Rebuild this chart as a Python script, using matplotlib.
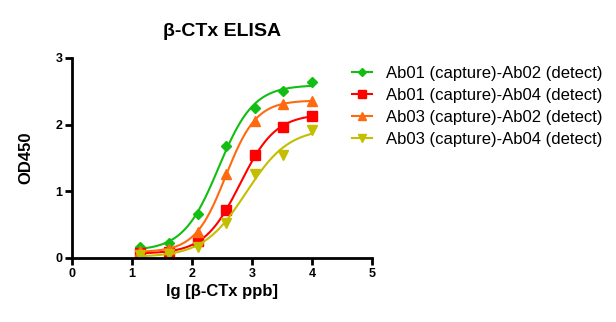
import numpy as np
import matplotlib
matplotlib.use("Agg")
import matplotlib.pyplot as plt

plt.rcParams["font.family"] = ["Liberation Sans", "DejaVu Sans"]

# lg concentration (3-fold dilutions)
x_vals = [1.137, 1.614, 2.092, 2.569, 3.046, 3.523, 4.0]

labels = ["Ab01 (capture)-Ab02 (detect)", "Ab01 (capture)-Ab04 (detect)",
          "Ab03 (capture)-Ab02 (detect)", "Ab03 (capture)-Ab04 (detect)"]
od_ab01_ab02 = [0.16, 0.23, 0.66, 1.68, 2.25, 2.50, 2.64]
od_ab01_ab04 = [0.07, 0.09, 0.25, 0.72, 1.54, 1.97, 2.13]
od_ab03_ab02 = [0.10, 0.14, 0.39, 1.26, 2.06, 2.31, 2.36]
od_ab03_ab04 = [0.05, 0.06, 0.17, 0.53, 1.26, 1.55, 1.92]
series = [od_ab01_ab02, od_ab01_ab04, od_ab03_ab02, od_ab03_ab04]
colors = ["#12BE12", "#FF0000", "#FF6A10", "#C4BE00"]
markers = ["D", "s", "^", "v"]
msizes = [5, 7, 7, 7]


def fit_4pl(x, y):
    # grid search over logEC50 / hill, bottom & top by linear least squares
    x = np.asarray(x)
    y = np.asarray(y)
    best = None
    for ec in np.linspace(1.5, 4.0, 126):
        for h in np.linspace(0.5, 3.0, 126):
            s = 1.0 / (1.0 + 10 ** ((ec - x) * h))
            A = np.column_stack([1 - s, s])
            coef, *_ = np.linalg.lstsq(A, y, rcond=None)
            err = np.sum((A @ coef - y) ** 2)
            if best is None or err < best[0]:
                best = (err, coef[0], coef[1], ec, h)
    return best[1:]


fig = plt.figure(figsize=(6.16, 3.22), dpi=100)
ax = fig.add_axes([0.117, 0.199, 0.487, 0.621])

xs = np.linspace(min(x_vals), max(x_vals), 300)
for y, c, m, ms, lab in zip(series, colors, markers, msizes, labels):
    bot, top, ec, h = fit_4pl(x_vals, y)
    ax.plot(xs, bot + (top - bot) / (1 + 10 ** ((ec - xs) * h)), color=c, lw=1.5)
    ax.plot(x_vals, y, linestyle="none", marker=m, color=c, ms=ms)
    ax.plot([], [], color=c, marker=m, ms=ms - 1, lw=1.5, label=lab)

ax.set_xlim(0, 5)
ax.set_ylim(0, 3)
ax.set_xticks([0, 1, 2, 3, 4, 5])
ax.set_yticks([0, 1, 2, 3])
for s in ["top", "right"]:
    ax.spines[s].set_visible(False)
for s in ["left", "bottom"]:
    ax.spines[s].set_linewidth(2)
ax.tick_params(width=2, length=5, labelsize=9, pad=2)
for t in ax.get_xticklabels() + ax.get_yticklabels():
    t.set_fontweight("bold")

ax.set_xlabel("lg [β-CTx ppb]", fontsize=12, fontweight="bold", labelpad=3)
ax.set_ylabel("OD450", fontsize=12, fontweight="bold", labelpad=16)
ax.set_title("β-CTx ELISA", fontsize=14, fontweight="bold", pad=16)

ax.legend(loc="upper left", bbox_to_anchor=(0.933, 0.96), frameon=False,
          borderpad=0, borderaxespad=0,
          fontsize=12, handlelength=1.2, handletextpad=0.85, labelspacing=0.42)

fig.savefig("out.png", dpi=100)
